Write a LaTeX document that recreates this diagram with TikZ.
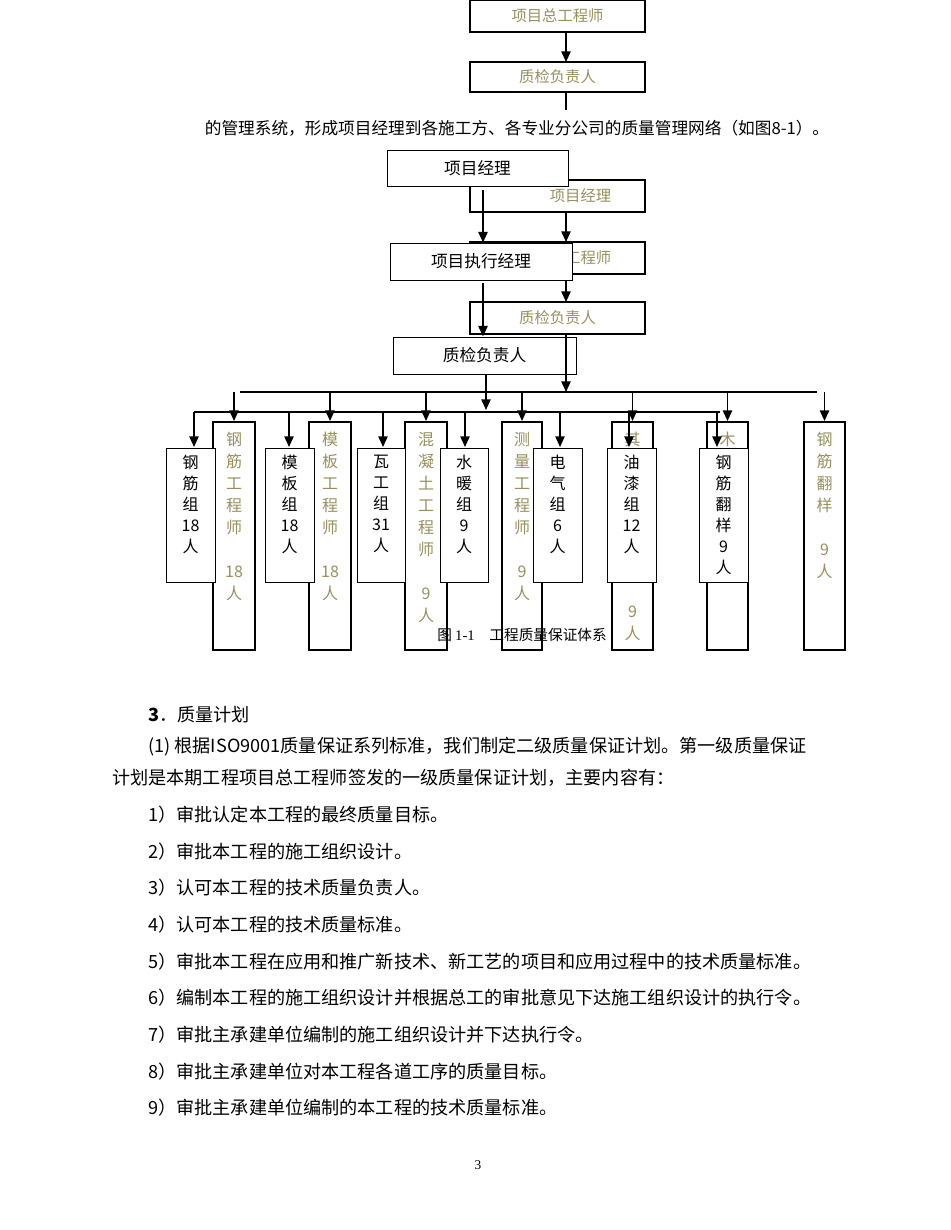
\documentclass[tikz,border=0pt]{standalone}
\usepackage{fontspec}
\setmainfont{Liberation Serif}
\newfontfamily\cjk{Noto Sans CJK SC}
\usetikzlibrary{arrows.meta}
\definecolor{olivetxt}{RGB}{150,145,95}
\begin{document}
\begin{tikzpicture}[x=0.75pt,y=-0.75pt,
  obox/.style={draw=black,line width=1.5pt,inner sep=0pt,fill=white,font=\cjk\fontsize{11.5}{14}\selectfont},
  fbox/.style={draw=black,line width=0.7pt,inner sep=0pt,fill=white,font=\cjk\fontsize{12.5}{14}\selectfont},
  otxt/.style={text=olivetxt,font=\cjk\fontsize{12}{16.5}\selectfont,align=center,inner sep=0pt},
  ftxt/.style={text=black,font=\cjk\fontsize{12}{15.8}\selectfont,align=center,inner sep=0pt},
  arr/.style={line width=1.2pt,-{Triangle[length=8pt,width=7pt]}},
  ln/.style={line width=1.2pt},
  body/.style={font=\cjk\fontsize{13.6}{16}\selectfont,anchor=west,inner sep=0pt}]
\useasboundingbox (0,0) rectangle (950,1230);
\newcommand\rbox[7]{\node[#6,minimum width={(#4-#2)*0.75pt},minimum height={(#5-#3)*0.75pt}] (#1) at ({(#2+#4)/2},{(#3+#5)/2}) {#7};}
% upper olive diagram
\rbox{og}{470}{0}{645}{32}{obox}{\textcolor{olivetxt}{项目总工程师}}
\rbox{oq}{470}{62}{645}{92}{obox}{\textcolor{olivetxt}{质检负责人}}
\coordinate (oqe) at (566,110);
\draw[arr] (566,32) -- (566,62);
\draw[ln] (566,92) -- (oqe);
\node[font=\cjk\fontsize{12.5}{14}\selectfont,inner sep=0pt] (intro) at (517,128) {的管理系统，形成项目经理到各施工方、各专业分公司的质量管理网络（如图8-1）。};
% olive layer
\rbox{opm}{470}{180}{645}{212}{obox}{\textcolor{olivetxt}{\hspace*{3em}项目经理}}
\rbox{oen}{470}{242}{645}{274}{obox}{\textcolor{olivetxt}{\hspace*{4em}工程师}}
\rbox{oqc}{470}{302}{645}{334}{obox}{\textcolor{olivetxt}{质检负责人}}
\draw[arr] (566,212) -- (566,242);
\draw[arr] (566,274) -- (566,302);
% front layer
\rbox{fpm}{387}{150}{568}{186}{fbox}{项目经理}
\rbox{fex}{390}{243}{572}{280}{fbox}{项目执行经理}
\rbox{fqc}{393}{337}{576}{374}{fbox}{质检负责人}
\draw[arr] (483,190) -- (fex.north -| 483,0);
\draw[arr] (483,283) -- (fqc.north -| 483,0);
% buses
\coordinate (ub1) at (240,392); \coordinate (ub2) at (817,392);
\coordinate (lb1) at (194,412); \coordinate (lb2) at (720,412);
\draw[arr] (566,334) -- (566,392);
\draw[ln] (ub1) -- (ub2);
\draw[ln] (lb1) -- (lb2);
\draw[arr] (486,374) -- (486,410);
% olive tall boxes
\foreach \n/\a/\b in {o1/213/255,o2/309/351,o3/405/447,o4/502/542,o5/612/653,o6/707/748,o7/804/845}{
  \rbox{\n}{\a}{422}{\b}{650}{obox}{}
  \draw[arr] ({(\a+\b)/2},392) -- (\n.north);
}
\node[otxt,anchor=north] (t1) at (o1.north |- 0,432) {钢\\筋\\工\\程\\师\\ \\18\\人};
\node[otxt,anchor=north] (t2) at (o2.north |- 0,432) {模\\板\\工\\程\\师\\ \\18\\人};
\node[otxt,anchor=north] (t3) at (o3.north |- 0,432) {混\\凝\\土\\工\\程\\师\\ \\9\\人};
\node[otxt,anchor=north] (t4) at (o4.north |- 0,432) {测\\量\\工\\程\\师\\ \\9\\人};
\node[otxt,anchor=north] (t5) at (o5.north |- 0,432) {其};
\node[otxt,anchor=north] (t5b) at (o5.north |- 0,606) {9\\人};
\node[otxt,anchor=north] (t6) at (o6.north |- 0,432) {木};
\node[otxt,anchor=north] (t7) at (o7.north |- 0,432) {钢\\筋\\翻\\样\\ \\9\\人};
% front boxes
\foreach \n/\a/\b in {f1/166/215,f2/265/314,f3/357/405,f4/440/488,f5/533/582,f6/607/656,f7/699/748}{
  \rbox{\n}{\a}{448}{\b}{582}{fbox}{}
}
\foreach \n/\x in {f1/194,f2/289,f3/383,f4/465,f5/560,f6/629,f7/717}{
  \draw[arr] (\x,412) -- (\x,447);
}
\node[ftxt,anchor=north] (s1) at (f1.north |- 0,455) {钢\\筋\\组\\18\\人};
\node[ftxt,anchor=north] (s2) at (f2.north |- 0,455) {模\\板\\组\\18\\人};
\node[ftxt,anchor=north] (s3) at (f3.north |- 0,455) {瓦\\工\\组\\31\\人};
\node[ftxt,anchor=north] (s4) at (f4.north |- 0,455) {水\\暖\\组\\9\\人};
\node[ftxt,anchor=north] (s5) at (f5.north |- 0,455) {电\\气\\组\\6\\人};
\node[ftxt,anchor=north] (s6) at (f6.north |- 0,455) {油\\漆\\组\\12\\人};
\node[ftxt,anchor=north] (s7) at (f7.north |- 0,455) {钢\\筋\\翻\\样\\9\\人};
\node[font=\cjk\fontsize{11}{13}\selectfont,inner sep=0pt] (cap) at (522,635) {图 {\fontspec{Liberation Serif}1-1}\quad{}工程质量保证体系};
% body text
\node[body] (h3) at (148,715) {\textbf{3}．质量计划};
\node[body] (p1) at (148,747) {(1) 根据ISO9001质量保证系列标准，我们制定二级质量保证计划。第一级质量保证};
\node[body] (p2) at (112,778) {计划是本期工程项目总工程师签发的一级质量保证计划，主要内容有：};
\node[body] (l1) at (148,815) {1）审批认定本工程的最终质量目标。};
\node[body] (l2) at (148,852) {2）审批本工程的施工组织设计。};
\node[body] (l3) at (148,888) {3）认可本工程的技术质量负责人。};
\node[body] (l4) at (148,925) {4）认可本工程的技术质量标准。};
\node[body] (l5) at (148,962) {5）审批本工程在应用和推广新技术、新工艺的项目和应用过程中的技术质量标准。};
\node[body] (l6) at (148,998) {6）编制本工程的施工组织设计并根据总工的审批意见下达施工组织设计的执行令。};
\node[body] (l7) at (148,1035) {7）审批主承建单位编制的施工组织设计并下达执行令。};
\node[body] (l8) at (148,1072) {8）审批主承建单位对本工程各道工序的质量目标。};
\node[body] (l9) at (148,1108) {9）审批主承建单位编制的本工程的技术质量标准。};
\node[font=\fontsize{10}{12}\selectfont] (pg) at (478,1165) {3};
\end{tikzpicture}
\end{document}
